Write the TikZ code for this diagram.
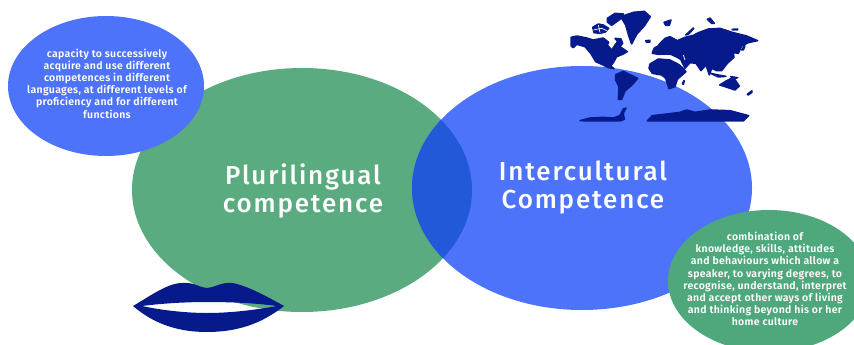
\documentclass[tikz,border=0pt]{standalone}
\usepackage{fontspec}
\newfontfamily\titlefont[LetterSpace=7]{Fira Sans Medium}
\newfontfamily\notefont[LetterSpace=3]{Fira Sans SemiBold}
\definecolor{circlegreen}{HTML}{5BAB80}
\definecolor{notegreen}{HTML}{4FA87C}
\definecolor{circleblue}{HTML}{4D73FA}
\definecolor{overlapblue}{HTML}{2159D9}
\definecolor{shapenavy}{HTML}{061A8C}
\tikzset{
  titletext/.style={text=white, align=center, font=\titlefont\fontsize{26}{28}\selectfont},
  notetext/.style={text=white, align=center, font=\notefont\fontsize{10.5}{12.2}\selectfont},
  land/.style={fill=shapenavy, draw=shapenavy, line width=1.5pt, line join=round},
  gap/.style={draw=white, line width=0.7pt}
}
\begin{document}
\begin{tikzpicture}[x=1pt,y=-1pt]
\useasboundingbox (0,0) rectangle (854,345);

\fill[circlegreen] (302,190) ellipse [x radius=170, y radius=122];
\fill[circleblue] (582,188) ellipse [x radius=170, y radius=122];
\begin{scope}
\clip (302,190) ellipse [x radius=170, y radius=122];
\fill[overlapblue] (582,188) ellipse [x radius=170, y radius=122];
\end{scope}

\fill[circleblue] (106,86) ellipse [x radius=98, y radius=70];
\clip (0,0) rectangle (854,345);
\fill[notegreen] (769,281) ellipse [x radius=101, y radius=71];

\node[titletext] (plurilingual) at (303,191) {Plurilingual\\competence};
\node[titletext] (intercultural) at (583,188) {Intercultural\\Competence};

\node[notetext] (capacity) at (107,83.5) {capacity to successively\\acquire and use different\\competences in different\\languages, at different levels of\\proficiency and for different\\functions};
\node[notetext] (combination) at (765,279) {combination of\\knowledge, skills, attitudes\\and behaviours which allow a\\speaker, to varying degrees, to\\recognise, understand, interpret\\and accept other ways of living\\and thinking beyond his or her\\home culture};

% lips
\fill[shapenavy, even odd rule] (133,306) .. controls (150,296) and (168,283) .. (182,283)
  .. controls (195,282) and (200,288) .. (207,288)
  .. controls (214,288) and (220,282) .. (232,283)
  .. controls (246,285) and (268,297) .. (284,306)
  .. controls (260,325) and (235,332) .. (207,332)
  .. controls (180,332) and (155,325) .. (133,306) -- cycle
  (142,306) .. controls (165,303) and (190,302) .. (207,302)
  .. controls (230,302) and (255,303) .. (277,306)
  .. controls (255,310) and (230,313) .. (207,313)
  .. controls (190,313) and (165,311) .. (142,306) -- cycle;

% world map
\begin{scope}[shift={(570,0)},x=0.3333pt,y=-0.3333pt]
\fill[land] (3,112) -- (20,108) -- (50,114) -- (70,120) -- (100,114) -- (116,127) -- (112,135) -- (125,150) -- (135,135) -- (143,125) -- (135,115) -- (153,117) -- (158,130) -- (150,140) -- (172,155) -- (158,163) -- (140,170) -- (130,188) -- (122,198) -- (132,206) -- (115,203) -- (95,193) -- (77,185) -- (62,160) -- (45,140) -- (20,133) -- (10,143) -- (3,138) -- cycle;
\fill[land] (68,82) -- (85,72) -- (100,75) -- (116,85) -- (106,96) -- (90,100) -- (72,98) -- cycle;
\fill[land] (112,55) -- (135,40) -- (160,42) -- (150,58) -- (125,76) -- (112,66) -- cycle;
\fill[land] (152,50) -- (190,37) -- (223,34) -- (241,50) -- (223,78) -- (200,103) -- (185,132) -- (177,110) -- (167,75) -- cycle;
\fill[land] (137,224) -- (160,214) -- (203,235) -- (188,253) -- (165,273) -- (155,298) -- (145,298) -- (147,260) -- (137,240) -- cycle;
\fill[land] (30,362) -- (60,354) -- (100,352) -- (130,354) -- (150,347) -- (160,327) -- (168,324) -- (160,340) -- (163,358) -- (150,363) -- (60,363) -- cycle;
\fill[land] (232,363) -- (247,347) -- (290,342) -- (330,337) -- (350,330) -- (375,337) -- (420,330) -- (480,332) -- (536,347) -- (520,363) -- (400,363) -- cycle;
\fill[land] (250,150) -- (262,140) -- (272,128) -- (285,115) -- (300,110) -- (322,122) -- (345,112) -- (370,106) -- (385,98) -- (415,87) -- (450,85) -- (490,98) -- (530,108) -- (563,122) -- (535,128) -- (515,138) -- (505,160) -- (490,158) -- (492,172) -- (472,190) -- (455,212) -- (440,212) -- (425,205) -- (418,225) -- (408,195) -- (393,212) -- (378,190) -- (360,188) -- (345,205) -- (332,178) -- (318,170) -- (300,162) -- (265,163) -- (247,160) -- cycle;
\fill[land] (240,192) -- (265,177) -- (300,180) -- (330,195) -- (348,215) -- (322,238) -- (315,260) -- (297,266) -- (287,235) -- (275,225) -- (247,220) -- (237,205) -- cycle;
\fill[land] (449,255) -- (470,242) -- (490,232) -- (508,258) -- (495,270) -- (465,260) -- cycle;
% islands
\fill[land] (227,122) -- (240,121) -- (240,126) -- (230,127) -- cycle;
\fill[land] (282,67) -- (303,60) -- (298,76) -- (287,76) -- cycle;
\fill[land] (412,58) -- (420,54) -- (433,70) -- (425,70) -- cycle;
\fill[land] (347,105) -- (370,84) -- (371,86) -- (355,103) -- cycle;
\fill[land] (486,88) -- (503,87) -- (503,90) -- (490,90) -- cycle;
\fill[land] (252,145) -- (260,140) -- (263,153) -- (256,155) -- cycle;
\fill[land] (515,150) -- (523,137) -- (525,138) -- (520,150) -- cycle;
\fill[land] (337,251) -- (342,242) -- (343,243) -- (340,253) -- cycle;
\fill[land] (422,220) -- (450,226) -- (468,229) -- (445,231) -- cycle;
\fill[land] (482,230) -- (503,233) -- (495,236) -- cycle;
\fill[land] (532,283) -- (546,272) -- (546,277) -- (535,285) -- cycle;
% gaps in the land
\draw[gap] (70,90) -- (95,85) -- (110,92);
\draw[gap] (85,75) -- (90,98);
\draw[gap] (265,168) -- (295,172) -- (320,176);
\draw[gap] (340,165) -- (345,180);
\draw[gap] (338,198) -- (322,185);
\end{scope}
\end{tikzpicture}
\end{document}
